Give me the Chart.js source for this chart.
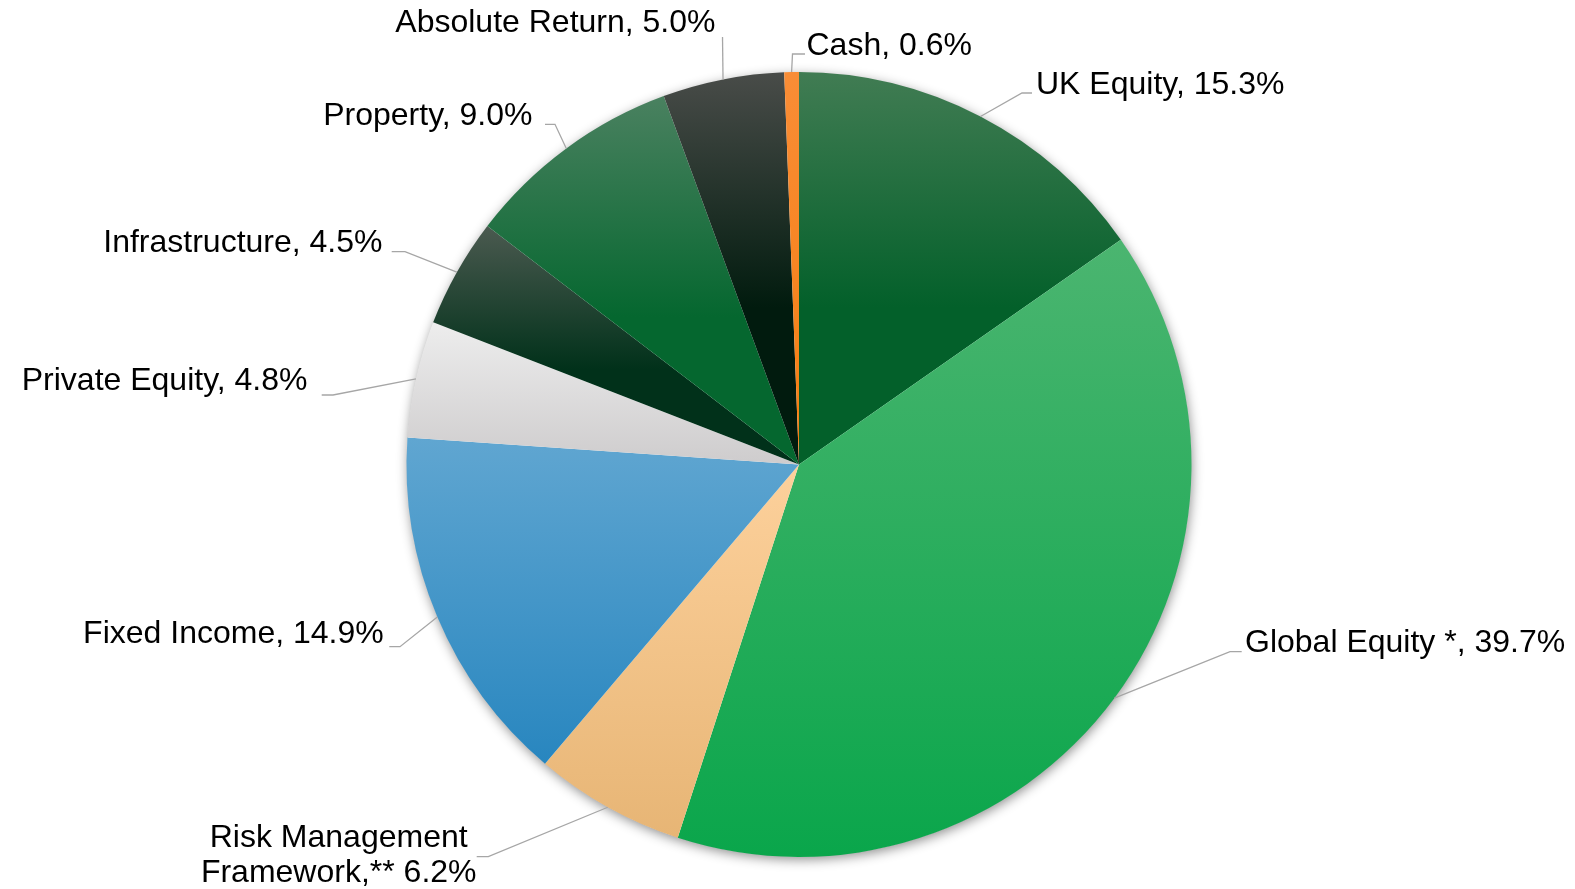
<!DOCTYPE html>
<html>
<head>
<meta charset="utf-8">
<style>
  html, body { margin: 0; padding: 0; background: #fff; }
  #wrap { width: 1575px; height: 889px; }
</style>
</head>
<body>
<div id="wrap"><canvas id="myChart"></canvas></div>
<script src="https://cdn.jsdelivr.net/npm/chart.js@4/dist/chart.umd.min.js"></script>
<script>
const categories = [
  'UK Equity',
  'Global Equity *',
  ['Risk Management', 'Framework,**'],
  'Fixed Income',
  'Private Equity',
  'Infrastructure',
  'Property',
  'Absolute Return',
  'Cash',
];
const allocation = [15.3, 39.7, 6.2, 14.9, 4.8, 4.5, 9.0, 5.0, 0.6];

// slice gradient, top colour -> bottom colour, and where the bottom colour is reached
const gradTop = ['#417c53', '#4bb570', '#fdd19c', '#60a6d1', '#ededed', '#4b5a50', '#4a8160', '#494c49', '#f98d36'];
const gradBottom = ['#03602a', '#0aa64b', '#e7b575', '#2886bf', '#cecccd', '#01311a', '#05672f', '#011b0e', '#f57e10'];
const gradReach = [0.6, 1, 1, 1, 1, 0.6, 0.6, 0.6, 1];

// label placement, relative to the pie centre:
// [kneeDx, kneeDy, tick, textDx (from knee), textDy (from knee), align]
const labelLayout = [
  [223, -371.5, 10, 14, 1, 'left'],
  [431, 187.2, 11.7, 15, 0, 'left'],
  [-310.7, 392.2, -11.6, -149.6, -10, 'center'],
  [-399, 182.2, -10.7, -16.3, -3.4, 'right'],
  [-466, -69.5, -11.3, -25.5, -5, 'right'],
  [-394, -212.8, -13.3, -22.5, 0, 'right'],
  [-244, -340.2, -10, -22.5, 0.7, 'right'],
  [-76.5, -427.5, 0, -7, -5.3, 'right'],
  [-6.5, -410.5, 12.5, 14, 1, 'left'],
];

function sliceGradient(c) {
  const i = c.dataIndex;
  const area = c.chart.chartArea;
  if (!area) return gradBottom[i];
  const cx = (area.left + area.right) / 2;
  const cy = (area.top + area.bottom) / 2;
  const r = Math.min(area.right - area.left, area.bottom - area.top) / 2;
  const total = allocation.reduce((a, b) => a + b, 0);
  let before = 0;
  for (let k = 0; k < i; k++) before += allocation[k];
  const a0 = -Math.PI / 2 + before / total * Math.PI * 2;
  const a1 = a0 + allocation[i] / total * Math.PI * 2;
  const ys = [cy, cy + Math.sin(a0) * r, cy + Math.sin(a1) * r];
  if (a0 < Math.PI / 2 && a1 > Math.PI / 2) ys.push(cy + r);
  const g = c.chart.ctx.createLinearGradient(0, Math.min(...ys), 0, Math.max(...ys));
  g.addColorStop(0, gradTop[i]);
  g.addColorStop(gradReach[i], gradBottom[i]);
  g.addColorStop(1, gradBottom[i]);
  return g;
}

const pieShadow = {
  id: 'pieShadow',
  beforeDatasetsDraw(chart) {
    const arc = chart.getDatasetMeta(0).data[0];
    if (!arc) return;
    const ctx = chart.ctx;
    ctx.save();
    ctx.shadowColor = 'rgba(0,0,0,0.45)';
    ctx.shadowBlur = 12;
    ctx.shadowOffsetX = 1;
    ctx.shadowOffsetY = 3;
    ctx.fillStyle = '#fff';
    ctx.beginPath();
    ctx.arc(arc.x, arc.y, arc.outerRadius - 0.5, 0, Math.PI * 2);
    ctx.fill();
    ctx.restore();
  },
};

const leaderLabels = {
  id: 'leaderLabels',
  afterDatasetsDraw(chart) {
    const ctx = chart.ctx;
    const arcs = chart.getDatasetMeta(0).data;
    ctx.save();
    ctx.font = '32px "Liberation Sans", Arial, sans-serif';
    ctx.fillStyle = '#000';
    ctx.textBaseline = 'alphabetic';
    arcs.forEach((arc, i) => {
      const [kdx, kdy, tick, tdx, tdy, align] = labelLayout[i];
      const mid = (arc.startAngle + arc.endAngle) / 2;
      const sx = arc.x + Math.cos(mid) * arc.outerRadius;
      const sy = arc.y + Math.sin(mid) * arc.outerRadius;
      const kx = arc.x + kdx;
      const ky = arc.y + kdy;
      ctx.strokeStyle = '#a6a6a6';
      ctx.lineWidth = 1.3;
      ctx.beginPath();
      ctx.moveTo(sx, sy);
      ctx.lineTo(kx, ky);
      if (tick) ctx.lineTo(kx + tick, ky);
      ctx.stroke();

      const name = categories[i];
      const pct = allocation[i].toFixed(1) + '%';
      let lines;
      if (Array.isArray(name)) {
        lines = name.slice();
        lines[lines.length - 1] += ' ' + pct;
      } else {
        lines = [name + ', ' + pct];
      }
      ctx.textAlign = align;
      lines.forEach((t, j) => ctx.fillText(t, kx + tdx, ky + tdy + j * 35));
    });
    ctx.restore();
  },
};

const ctx = document.getElementById('myChart');
const myChart = new Chart(ctx, {
  type: 'pie',
  data: {
    labels: categories,
    datasets: [{
      data: allocation,
      backgroundColor: sliceGradient,
      borderWidth: 0,
      hoverOffset: 0,
      offset: 0,
    }],
  },
  options: {
    responsive: true,
    maintainAspectRatio: false,
    animation: false,
    events: [],
    layout: {
      padding: { left: 23, right: 0, top: 72, bottom: 32 },
    },
    plugins: {
      legend: { display: false },
      tooltip: { enabled: false },
    },
  },
  plugins: [pieShadow, leaderLabels],
});
</script>
</body>
</html>
